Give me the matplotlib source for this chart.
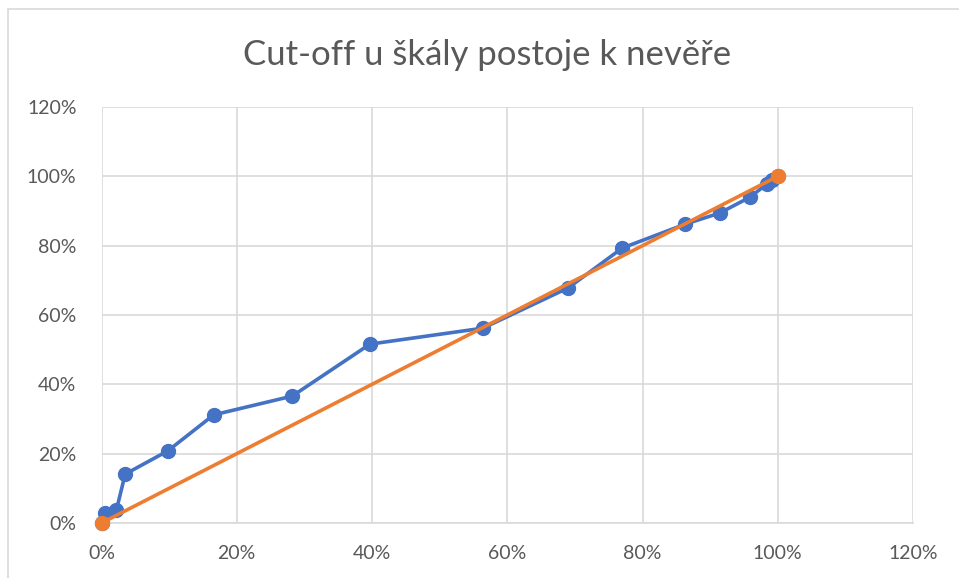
import matplotlib.pyplot as plt
from matplotlib.patches import Rectangle
from matplotlib.ticker import FuncFormatter, MultipleLocator

# ROC-like cut-off curve (values in %)
fp_rate = [0, 0.5, 2.2, 3.5, 9.8, 16.6, 28.2, 39.7, 56.4, 69.0, 77.0, 86.3, 91.4, 95.9, 98.4, 99.1, 100]
tp_rate = [0, 2.8, 3.7, 14.1, 20.8, 31.2, 36.6, 51.6, 56.2, 67.8, 79.3, 86.2, 89.4, 94.0, 97.8, 99.0, 100]
diag_x = [0, 100]
diag_y = [0, 100]

title = "Cut-off u škály postoje k nevěře"
ticks = [0, 20, 40, 60, 80, 100, 120]

W, H = 959, 578
fig = plt.figure(figsize=(W / 100, H / 100), dpi=100)
fig.patch.set_facecolor("white")

# chart frame (cut off at right / bottom)
fig.patches.append(Rectangle((8 / W, -0.05), 1.2, (H - 9) / H + 0.05,
                             transform=fig.transFigure, fill=False,
                             edgecolor="#d9d9d9", linewidth=1.2))

left, right, top, bottom = 101.5, 913, 107, 523
ax = fig.add_axes([left / W, (H - bottom) / H, (right - left) / W, (bottom - top) / H])

ax.plot(fp_rate, tp_rate, color="#4472C4", linewidth=2.6, marker="o",
        markersize=10, zorder=3, clip_on=False)
ax.plot(diag_x, diag_y, color="#ED7D31", linewidth=2.6, marker="o",
        markersize=10, zorder=4, clip_on=False)

ax.set_xlim(0, 120)
ax.set_ylim(0, 120)
ax.xaxis.set_major_locator(MultipleLocator(20))
ax.yaxis.set_major_locator(MultipleLocator(20))
pct = FuncFormatter(lambda v, p: f"{v:.0f}%")
ax.xaxis.set_major_formatter(pct)
ax.yaxis.set_major_formatter(pct)

ax.grid(True, color="#d9d9d9", linewidth=1.2)
ax.set_axisbelow(True)
for s in ax.spines.values():
    s.set_visible(False)
ax.spines["bottom"].set_visible(True)
ax.spines["bottom"].set_color("#d9d9d9")
ax.spines["bottom"].set_linewidth(1.2)
ax.tick_params(length=0, labelsize=14, labelcolor="#595959")
ax.tick_params(axis="x", pad=16)
ax.tick_params(axis="y", pad=18)
for lab in ax.get_xticklabels() + ax.get_yticklabels():
    lab.set_family(["Lato", "DejaVu Sans"])

fig.text(487 / W, 1 - 55 / H, title, ha="center", va="center", fontsize=25,
         color="#595959", family=["Lato", "DejaVu Sans"], fontweight="normal")

fig.savefig("out.png", dpi=100)
